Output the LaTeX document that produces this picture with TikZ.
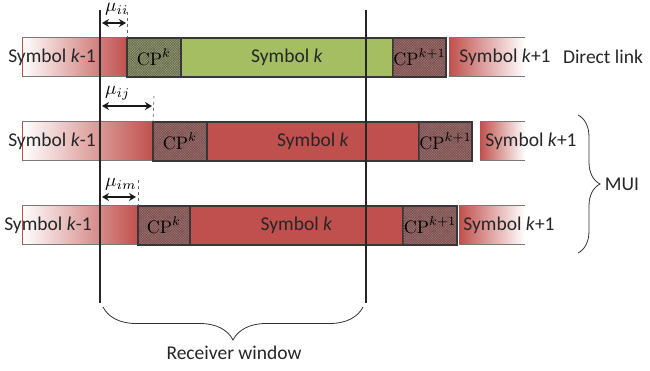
\RequirePackage{fix-cm}
\documentclass[tikz,border=0pt]{standalone}
\usepackage[no-math]{fontspec}
\usepackage{graphicx}
\setmainfont{Carlito}
\usetikzlibrary{arrows.meta,patterns.meta,decorations.pathreplacing}
\definecolor{redS}{RGB}{192,80,77}
\definecolor{greenS}{RGB}{165,190,98}
\definecolor{edge}{RGB}{55,55,55}
\definecolor{rimgray}{RGB}{120,120,120}
\definecolor{cpred}{RGB}{168,112,110}
\definecolor{cpredl}{RGB}{110,80,80}
\definecolor{cpgreen}{RGB}{155,160,112}
\definecolor{cpgreenl}{RGB}{95,100,80}
\newcommand{\bigmath}[2]{\scalebox{#1}{$#2$}}
\begin{document}
\begin{tikzpicture}[x=1pt,y=-1pt,
  font=\fontsize{19.5}{23}\selectfont,
  seg/.style={anchor=north west, minimum height=39pt, inner sep=0pt, outer sep=0pt},
  symk/.style={seg, draw=edge, line width=1.2pt},
  cpr/.style={seg, draw=edge, line width=1.2pt, fill=cpred,
    postaction={pattern={Lines[angle=45,distance=1.8pt,line width=0.45pt]}, pattern color=cpredl},
    postaction={pattern={Lines[angle=-45,distance=1.8pt,line width=0.45pt]}, pattern color=cpredl}},
  cpg/.style={seg, draw=edge, line width=1.2pt, fill=cpgreen,
    postaction={pattern={Lines[angle=45,distance=1.8pt,line width=0.45pt]}, pattern color=cpgreenl},
    postaction={pattern={Lines[angle=-45,distance=1.8pt,line width=0.45pt]}, pattern color=cpgreenl}},
  prev/.style={seg, left color=white, right color=redS},
  next/.style={seg, left color=redS, right color=white},
  rim/.style={draw=rimgray, line width=1pt},
  lbl/.style={inner sep=0pt, text=black!85},
  cplbl/.style={inner sep=0pt, text=black, font=\fontsize{10}{12}\selectfont},
  mulbl/.style={inner sep=0pt, anchor=base west, text=black, font=\fontsize{10}{12}\selectfont},
  win/.style={line width=2.2pt, black!85},
  mu/.style={{Stealth[length=7pt,width=8pt]}-{Stealth[length=7pt,width=8pt]}, line width=2.4pt, black!90},
  dsh/.style={dashed, black!60, line width=0.6pt},
  brc/.style={decorate, line width=0.8pt, black!80}
]
\useasboundingbox (0,0) rectangle (650,371);

% ---------- Row 1 (direct link) ----------
\node[prev, minimum width=105pt] (a1) at (22,38) {};
\node[cpg, minimum width=54pt] (c1) at (127,38) {};
\node[symk, fill=greenS, minimum width=212pt] (s1) at (181,38) {};
\node[cpr, minimum width=53pt] (d1) at (393,38) {};
\node[next, minimum width=76pt] (e1) at (449,38) {};

% ---------- Row 2 ----------
\node[prev, minimum width=131pt] (a2) at (22,122) {};
\node[cpr, minimum width=54pt] (c2) at (153,122) {};
\node[symk, fill=redS, minimum width=212pt] (s2) at (207,122) {};
\node[cpr, minimum width=53pt] (d2) at (419,122) {};
\node[next, minimum width=45pt] (e2) at (480,122) {};

% ---------- Row 3 ----------
\node[prev, minimum width=116pt] (a3) at (22,206) {};
\node[cpr, minimum width=52pt] (c3) at (138,206) {};
\node[symk, fill=redS, minimum width=213pt] (s3) at (190,206) {};
\node[cpr, minimum width=54pt] (d3) at (403,206) {};
\node[next, minimum width=66pt] (e3) at (459,206) {};

% rims of the neighbouring symbols
\foreach \r in {1,2,3}{
  \draw[rim] (a\r.north west) -- (a\r.north east);
  \draw[rim] (a\r.south west) -- (a\r.south east);
  \draw[redS, line width=0.8pt] (a\r.north west) -- (a\r.south west);
  \draw[rim] (e\r.north west) -- (e\r.north east);
  \draw[rim] (e\r.south west) -- (e\r.south east);
}
\foreach \r in {1,2,3}{
  \draw[edge, line width=1.2pt] (c\r.north west) rectangle (d\r.south east);
}

% ---------- texts ----------
\node[lbl] (t1a) at (52,57) {Symbol \textit{k}-1};
\node[cplbl] (t1c) at (c1) {\bigmath{1.8}{\mathrm{CP}^{k}}};
\node[lbl] (t1s) at (s1) {Symbol \textit{k}};
\node[cplbl] (t1d) at (d1) {\bigmath{1.8}{\mathrm{CP}^{k+1}}};
\node[lbl] (t1e) at (505,57) {Symbol \textit{k}+1};
\node[lbl] (dl) at (603,57) {Direct link};

\node[lbl] (t2a) at (52,141) {Symbol \textit{k}-1};
\node[cplbl] (t2c) at (c2) {\bigmath{1.8}{\mathrm{CP}^{k}}};
\node[lbl] (t2s) at (s2) {Symbol \textit{k}};
\node[cplbl] (t2d) at (d2) {\bigmath{1.8}{\mathrm{CP}^{k+1}}};
\node[lbl] (t2e) at (531,141) {Symbol \textit{k}+1};

\node[lbl] (t3a) at (48,225) {Symbol \textit{k}-1};
\node[cplbl] (t3c) at (c3) {\bigmath{1.8}{\mathrm{CP}^{k}}};
\node[lbl] (t3s) at (s3) {Symbol \textit{k}};
\node[cplbl] (t3d) at (d3) {\bigmath{1.8}{\mathrm{CP}^{k+1}}};
\node[lbl] (t3e) at (509,225) {Symbol \textit{k}+1};

% ---------- receiver window ----------
\coordinate (w1t) at (100,10);
\coordinate (w1b) at (100,303);
\coordinate (w2t) at (366,10);
\coordinate (w2b) at (366,303);
\draw[win] (w1t) -- (w1b);
\draw[win] (w2t) -- (w2b);

% ---------- offsets mu ----------
\coordinate (m1t) at (127,12);
\coordinate (m2t) at (154,96);
\coordinate (m3t) at (138,180);
\draw[dsh] (m1t) -- (c1.north west);
\draw[dsh] (m2t) -- (c2.north west);
\draw[dsh] (m3t) -- (c3.north west);

\coordinate (m1a) at (102,23);  \coordinate (m1b) at (126,23);
\coordinate (m2a) at (102,106); \coordinate (m2b) at (152,106);
\coordinate (m3a) at (102,197); \coordinate (m3b) at (136,197);
\draw[mu] (m1a) -- (m1b);
\draw[mu] (m2a) -- (m2b);
\draw[mu] (m3a) -- (m3b);

\node[mulbl] (mu1) at (105,12) {\bigmath{1.9}{\mu_{ii}}};
\node[mulbl] (mu2) at (105,95) {\bigmath{1.9}{\mu_{ij}}};
\node[mulbl] (mu3) at (105,187) {\bigmath{1.9}{\mu_{im}}};

% ---------- braces ----------
\coordinate (b1a) at (103,307);
\coordinate (b1b) at (363,307);
\draw[brc, decoration={brace, mirror, amplitude=33pt, aspect=0.5}] (b1a) -- (b1b);
\node[lbl] (rw) at (234,353) {Receiver window};

\coordinate (b2a) at (578,115);
\coordinate (b2b) at (578,253);
\draw[brc, decoration={brace, amplitude=22pt, aspect=0.5}] (b2a) -- (b2b);
\node[lbl] (mui) at (622,184) {MUI};
\end{tikzpicture}
\end{document}
